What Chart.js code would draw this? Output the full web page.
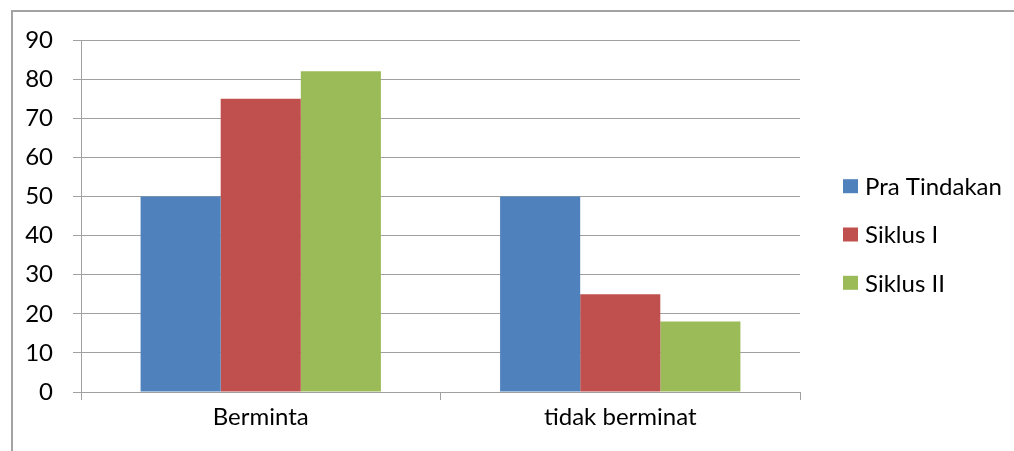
<!DOCTYPE html>
<html>
<head>
<meta charset="utf-8">
<script src="https://cdn.jsdelivr.net/npm/chart.js@4/dist/chart.umd.min.js"></script>
<style>
  html, body { margin: 0; padding: 0; background: #fff; width: 1014px; height: 451px; overflow: hidden; }
  #wrap { position: relative; width: 1014px; height: 451px; }
  #frame { position: absolute; left: 11px; top: 10px; width: 1020px; height: 460px;
           border-top: 2px solid #a3a3a3; border-left: 2px solid #a3a3a3; box-sizing: border-box; pointer-events: none; }
  canvas { position: absolute; left: 0; top: 0; }
</style>
</head>
<body>
<div id="wrap">
  <canvas id="c" width="1014" height="451"></canvas>
  <div id="frame"></div>
</div>
<script>
// ---- data ----
const categories = ["Berminta", "tidak berminat"];
const seriesNames = ["Pra Tindakan", "Siklus I", "Siklus II"];
const praTindakan = [50, 50];
const siklusI = [75, 25];
const siklusII = [82, 18];
const yTicks = [0, 10, 20, 30, 40, 50, 60, 70, 80, 90];

const colors = ["#4F81BD", "#C0504D", "#9BBB59"];
const FONT = "Lato, 'Liberation Sans', sans-serif";
const FS = 24;
const GRID = "#a0a0a0";

const legendPlugin = {
  id: 'sideLegend',
  afterDraw(chart) {
    const ctx = chart.ctx;
    const ca = chart.chartArea;
    const ds = chart.data.datasets;
    const x0 = ca.right + 43;
    const step = 48.3;
    const midY = 234.5;
    ctx.save();
    ctx.font = FS + "px " + FONT;
    ctx.textBaseline = "middle";
    ctx.textAlign = "left";
    ds.forEach((d, i) => {
      const cy = midY + (i - (ds.length - 1) / 2) * step;
      ctx.fillStyle = d.backgroundColor;
      ctx.fillRect(x0, cy - 7, 15, 14);
      ctx.fillStyle = "#000";
      ctx.fillText(d.label, x0 + 22, cy + 1);
    });
    ctx.restore();
  }
};

new Chart(document.getElementById('c'), {
  type: 'bar',
  data: {
    labels: categories,
    datasets: [
      { label: seriesNames[0], data: praTindakan, backgroundColor: colors[0] },
      { label: seriesNames[1], data: siklusI, backgroundColor: colors[1] },
      { label: seriesNames[2], data: siklusII, backgroundColor: colors[2] }
    ]
  },
  options: {
    responsive: false,
    animation: false,
    devicePixelRatio: 1,
    layout: { padding: { top: 40, right: 214, left: 0, bottom: 0 } },
    datasets: { bar: { categoryPercentage: 0.6685, barPercentage: 1.0, borderWidth: 0 } },
    plugins: { legend: { display: false }, tooltip: { enabled: false } },
    scales: {
      x: {
        grid: { display: true, offset: true, drawOnChartArea: false, drawTicks: true, tickLength: 8, color: GRID, lineWidth: 1 },
        border: { display: true, color: GRID, width: 1 },
        ticks: { color: "#000", font: { family: FONT, size: FS }, padding: 3, maxRotation: 0 },
        afterFit(scale) { scale.height = 59; }
      },
      y: {
        min: 0, max: 90,
        afterBuildTicks(scale) { scale.ticks = yTicks.map(v => ({ value: v })); },
        grid: { display: true, drawOnChartArea: true, drawTicks: true, tickLength: 8, color: GRID, lineWidth: 1 },
        border: { display: true, color: GRID, width: 1 },
        ticks: { color: "#000", font: { family: FONT, size: FS }, padding: 20 },
        afterFit(scale) { scale.width = 81; }
      }
    }
  },
  plugins: [legendPlugin]
});
</script>
</body>
</html>
